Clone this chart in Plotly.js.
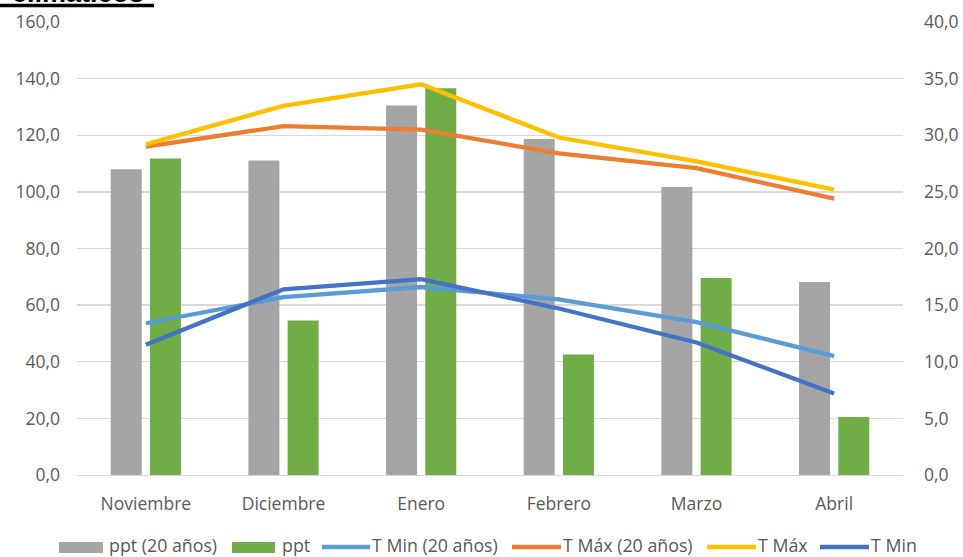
<!DOCTYPE html>
<html>
<head>
<meta charset="utf-8">
<script src="https://cdn.plot.ly/plotly-3.0.1.min.js"></script>
<style>
  html, body { margin: 0; padding: 0; background: #ffffff; }
  #chart { width: 963px; height: 557px; }
</style>
</head>
<body>
<div id="chart"></div>
<script>
// Meses de la temporada
const meses = ["Noviembre", "Diciembre", "Enero", "Febrero", "Marzo", "Abril"];

// Precipitación (mm)
const pptPromedio20 = [108.0, 111.1, 130.5, 118.7, 101.7, 68.2];
const pptTemporada = [111.8, 54.6, 136.6, 42.6, 69.6, 20.5];

// Temperaturas (°C)
const tMin20 = [13.4, 15.7, 16.6, 15.5, 13.5, 10.5];
const tMax20 = [29.0, 30.8, 30.5, 28.4, 27.1, 24.4];
const tMax = [29.2, 32.6, 34.5, 29.8, 27.7, 25.2];
const tMin = [11.5, 16.4, 17.3, 14.7, 11.7, 7.2];

const W = 963, H = 557;
const M = { l: 77, r: 60, t: 22, b: 82 };
const plotW = W - M.l - M.r, plotH = H - M.t - M.b;
// pixel -> paper helpers for the hand-built legend
const px = x => (x - M.l) / plotW;
const py = y => (H - M.b - y) / plotH;

const tickFont = { family: "Open Sans, DejaVu Sans, sans-serif", size: 17.5, color: "#595959" };
const legendFont = { family: "Open Sans, DejaVu Sans, sans-serif", size: 17.8, color: "#595959" };

const series = [
  { name: "ppt (20 años)", kind: "bar", color: "#a5a5a5", values: pptPromedio20 },
  { name: "ppt", kind: "bar", color: "#70ad47", values: pptTemporada },
  { name: "T Min (20 años)", kind: "line", color: "#5b9bd5", values: tMin20 },
  { name: "T Máx (20 años)", kind: "line", color: "#ed7d31", values: tMax20 },
  { name: "T Máx", kind: "line", color: "#ffc000", values: tMax },
  { name: "T Min", kind: "line", color: "#4472c4", values: tMin }
];

const data = series.map(s => s.kind === "bar"
  ? { type: "bar", name: s.name, x: meses, y: s.values,
      marker: { color: s.color }, hoverinfo: "skip" }
  : { type: "scatter", mode: "lines", name: s.name, x: meses, y: s.values,
      yaxis: "y2", line: { color: s.color, width: 4.3 }, hoverinfo: "skip" });

// Legend row along the bottom: swatch start/end and label start (pixels)
const legendSlots = [
  [59, 103, 108], [232, 275, 281], [322, 370, 371],
  [512, 561, 562], [707, 756, 757], [820, 869, 870]
];
const swatchY = 547.5;
const labelY = 544.5;
const shapes = [];
const annotations = [];
series.forEach((s, i) => {
  const [a, b, t] = legendSlots[i];
  if (s.kind === "bar") {
    shapes.push({ type: "rect", xref: "paper", yref: "paper",
      x0: px(a), x1: px(b), y0: py(swatchY - 5.5), y1: py(swatchY + 5.5),
      fillcolor: s.color, line: { width: 0 } });
  } else {
    shapes.push({ type: "line", xref: "paper", yref: "paper",
      x0: px(a), x1: px(b), y0: py(swatchY - 0.5), y1: py(swatchY - 0.5),
      line: { color: s.color, width: 4.3 } });
  }
  annotations.push({ text: s.name, xref: "paper", yref: "paper",
    x: px(t), y: py(labelY), xanchor: "left", yanchor: "middle",
    showarrow: false, font: legendFont, borderpad: 0 });
});

// Heading above the chart, only its lower edge and underline reach the frame
annotations.push({
  text: "<b>climáticos</b>", xref: "paper", yref: "paper",
  x: px(10), y: 1, xanchor: "left", yanchor: "bottom", yshift: 12,
  showarrow: false, font: { family: "Liberation Sans, sans-serif", size: 27, color: "#000000" }
});
shapes.push({
  type: "line", xref: "paper", yref: "paper", ysizemode: "pixel", yanchor: 1,
  x0: px(0), x1: px(154), y0: M.t - 5.5, y1: M.t - 5.5,
  line: { color: "#000000", width: 3.5 }
});

const layout = {
  width: W, height: H,
  margin: M,
  paper_bgcolor: "#ffffff", plot_bgcolor: "#ffffff",
  separators: ",.",
  barmode: "group", bargap: 0.43, bargroupgap: 0.21,
  showlegend: false,
  xaxis: {
    type: "category", tickfont: tickFont,
    showgrid: false, showline: true, linecolor: "#d9d9d9", linewidth: 1.3,
    ticks: "", ticklabelstandoff: 13, zeroline: false
  },
  yaxis: {
    range: [0, 160], dtick: 20, tickformat: ".1f", tickfont: tickFont,
    showgrid: true, gridcolor: "#d9d9d9", gridwidth: 1.3,
    zeroline: false, showline: false, ticks: "", ticklabelstandoff: 16
  },
  yaxis2: {
    range: [0, 40], dtick: 5, tickformat: ".1f", tickfont: tickFont,
    overlaying: "y", side: "right", showgrid: false,
    zeroline: false, showline: false, ticks: "", ticklabelstandoff: 20
  },
  annotations: annotations,
  shapes: shapes
};

Plotly.newPlot("chart", data, layout, { displayModeBar: false, staticPlot: true });
</script>
</body>
</html>
